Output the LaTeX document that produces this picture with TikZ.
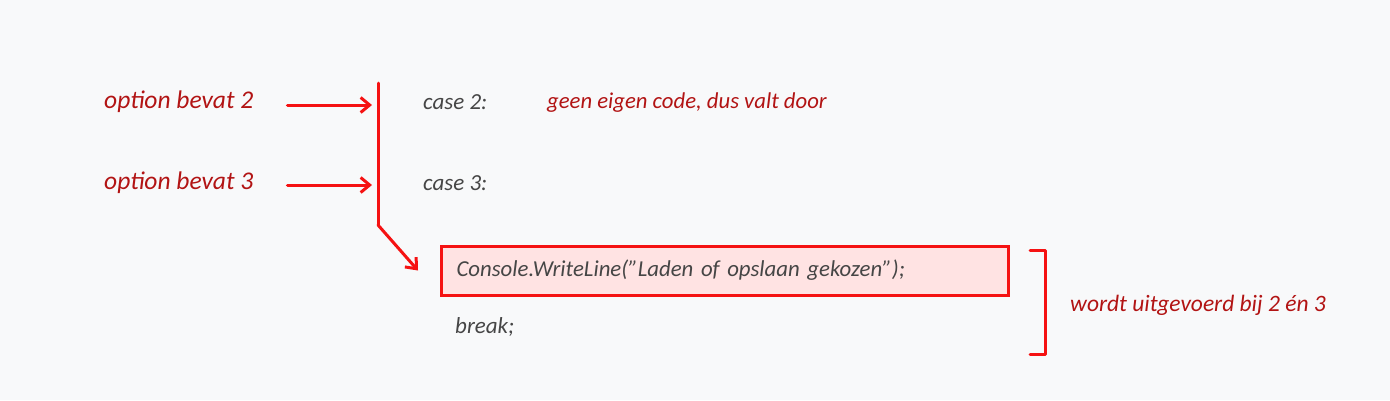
\documentclass[tikz,border=0pt]{standalone}
\usepackage{fontspec}
\setmainfont{Carlito}
\usetikzlibrary{arrows.meta}
\definecolor{notered}{RGB}{178,20,20}
\definecolor{linered}{RGB}{245,18,18}
\definecolor{codegray}{RGB}{70,70,70}
\definecolor{codefill}{RGB}{255,227,227}
\definecolor{paper}{RGB}{248,249,250}
\tikzset{
	note text/.style={text=notered, anchor=west, inner sep=0pt, font=\itshape\fontsize{23.5}{27}\selectfont},
	option text/.style={note text, font=\itshape\fontsize{25.5}{29}\selectfont},
	code text/.style={text=codegray, anchor=west, inner sep=0pt, font=\itshape\fontsize{23}{27}\selectfont},
	red line/.style={draw=linered, line width=3pt, line cap=round, line join=round},
	red arrow/.style={red line, -{Straight Barb[length=9pt,width=15pt,line width=3pt]}}
}

\begin{document}
\begin{tikzpicture}[x=1pt, y=-1pt]
	\fill[paper] (0,0) rectangle (1390,400);
	\useasboundingbox (0,0) rectangle (1390,400);

	\node[option text] at (104,102) (opt-2) {option bevat 2};
	\node[option text] at (104,183) (opt-3) {option bevat 3};

	\coordinate (bar-top) at (378,83);
	\coordinate (bar-bend) at (378,225);

	\node[code text] at (423,102) (case-2) {case 2:};
	\node[code text] at (423,183) (case-3) {case 3:};
	\node[note text, font=\itshape\fontsize{22.7}{27}\selectfont] at (547,103) (fall-note) {geen eigen code, dus valt door};

	\node[draw=linered, line width=3pt, fill=codefill, anchor=west, minimum width=567pt, minimum height=49pt, text width=537pt, inner xsep=15pt, inner ysep=0pt, align=left, text=codegray, font=\itshape\fontsize{22.8}{27}\selectfont] at (440,270.5) (write-line) {Console.WriteLine("Laden of opslaan gekozen");};
	\node[code text] at (455,327) (break) {break;};

	\node[note text] at (1070,305) (both-note) {wordt uitgevoerd bij 2 én 3};

	% pijlen naar de case labels
	\draw[red arrow] ([xshift=34pt, yshift=-3pt]opt-2.east) -- ([xshift=-6pt, yshift=-3pt]opt-2.east -| bar-top);
	\draw[red arrow] ([xshift=34pt, yshift=-2pt]opt-3.east) -- ([xshift=-6pt, yshift=-2pt]opt-3.east -| bar-top);

	% doorvallen naar de code
	\draw[red line] (bar-top) -- (bar-bend);
	\draw[red arrow] (bar-bend) -- ([xshift=-22pt]write-line.west);

	% haak rond de uitgevoerde regels
	\draw[red line] (1030,250) -- (1045,250) -- (1045,354) -- (1030,354);
\end{tikzpicture}
\end{document}
